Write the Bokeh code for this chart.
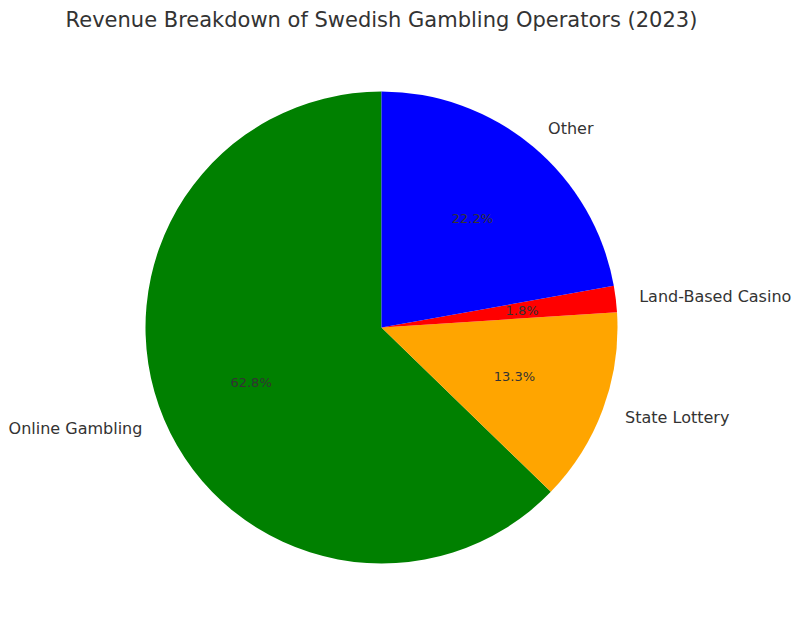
import numpy as np
from bokeh.plotting import figure
from bokeh.models import ColumnDataSource, Range1d
from bokeh.core.properties import value
from bokeh.embed import file_html
from bokeh.resources import INLINE

categories = ["Online Gambling", "State Lottery", "Land-Based Casino", "Other"]
shares = [62.8, 13.3, 1.8, 22.2]
colors = ["green", "orange", "red", "blue"]
title_text = "Revenue Breakdown of Swedish Gambling Operators (2023)"

W, H = 800, 632
cx_px, cy_px, r_px = 381, 327, 236

vals = np.array(shares, dtype=float)
frac = vals / vals.sum()
start_deg = 90 + 360 * np.concatenate([[0], np.cumsum(frac)[:-1]])
end_deg = 90 + 360 * np.cumsum(frac)
mid = np.deg2rad((start_deg + end_deg) / 2)

src = ColumnDataSource(dict(
    start=np.deg2rad(start_deg), end=np.deg2rad(end_deg), color=colors,
    lx=1.1 * np.cos(mid), ly=1.1 * np.sin(mid),
    px=0.6 * np.cos(mid), py=0.6 * np.sin(mid),
    label=categories, pct=[f"{v:.1f}%" for v in shares],
    align=["left" if np.cos(m) > 0 else "right" for m in mid],
))

p = figure(width=W, height=H, output_backend="svg", toolbar_location=None,
           x_range=Range1d(-cx_px / r_px, (W - cx_px) / r_px),
           y_range=Range1d(-(H - cy_px) / r_px, cy_px / r_px),
           min_border=0)
p.axis.visible = False
p.grid.visible = False
p.outline_line_color = None
p.background_fill_color = "white"

p.wedge(x=0, y=0, radius=1.0, start_angle="start", end_angle="end",
        direction="anticlock", fill_color="color", line_color=None, source=src)

p.text(x="lx", y="ly", text="label", text_align="align", text_baseline="middle",
       text_font=value("DejaVu Sans"), text_font_size="16px", text_color="#333333",
       source=src)
p.text(x="px", y="py", text="pct", text_align="center", text_baseline="middle",
       text_font=value("DejaVu Sans"), text_font_size="13px", text_color="#333333",
       source=src)

p.text(x=[0], y=[(cy_px - 19) / r_px],
       text=[title_text], text_align="center", text_baseline="middle",
       text_font=value("DejaVu Sans"), text_font_size="21px", text_color="#333333")

open("out.html", "w").write(file_html(p, INLINE))
